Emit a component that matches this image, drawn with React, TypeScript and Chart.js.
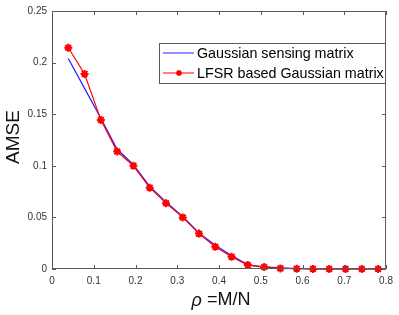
import React, { useEffect, useRef } from "react";
import { Chart, registerables } from "chart.js";

Chart.register(...registerables);

const rho = [0.039, 0.078, 0.117, 0.156, 0.195, 0.234, 0.273, 0.313, 0.352, 0.391, 0.430, 0.469, 0.508, 0.547, 0.586, 0.625, 0.664, 0.703, 0.742, 0.781];
const gaussian = [0.204, 0.175, 0.146, 0.116, 0.101, 0.080, 0.065, 0.051, 0.035, 0.023, 0.013, 0.004, 0.002, 0.001, 0.0005, 0.0002, 0.0001, 0, 0, 0];
const lfsr = [0.2144, 0.189, 0.1445, 0.1138, 0.100, 0.0788, 0.0638, 0.050, 0.0343, 0.0215, 0.0118, 0.0038, 0.0019, 0.0006, 0.0003, 0.0001, 0, 0, 0, 0];
const xTicks = [0, 0.1, 0.2, 0.3, 0.4, 0.5, 0.6, 0.7, 0.8];
const yTicks = [0, 0.05, 0.1, 0.15, 0.2, 0.25];
const seriesNames = ["Gaussian sensing matrix", "LFSR based Gaussian matrix"];
const yTitle = "AMSE";
const xTitleSymbol = "ρ";
const xTitleRest = " =M/N";

const FONT = "'Liberation Sans', Arial, sans-serif";
const AXIS = "#5a5a5a";
const LABEL = "#333333";
const BLUE = "#2020ff";
const RED = "#ff0000";

const decor = {
  id: "decor",
  afterDraw(chart: any) {
    const ctx = chart.ctx;
    const { left, right, top, bottom } = chart.chartArea;
    const xs = chart.scales.x;
    const ys = chart.scales.y;
    ctx.save();
    ctx.strokeStyle = AXIS;
    ctx.lineWidth = 1;
    ctx.beginPath();
    ctx.rect(left + 0.5, top + 0.5, right - left - 1, bottom - top - 1);
    ctx.stroke();
    const tl = 4;
    ctx.beginPath();
    for (const v of xTicks) {
      const px = Math.round(xs.getPixelForValue(v)) + 0.5;
      ctx.moveTo(px, bottom);
      ctx.lineTo(px, bottom - tl);
      ctx.moveTo(px, top);
      ctx.lineTo(px, top + tl);
    }
    for (const v of yTicks) {
      const py = Math.round(ys.getPixelForValue(v)) + 0.5;
      ctx.moveTo(left, py);
      ctx.lineTo(left + tl, py);
      ctx.moveTo(right, py);
      ctx.lineTo(right - tl, py);
    }
    ctx.stroke();

    // Axis titles
    ctx.fillStyle = "#111111";
    ctx.textBaseline = "middle";
    ctx.save();
    ctx.translate(14, 137);
    ctx.rotate(-Math.PI / 2);
    ctx.textAlign = "center";
    ctx.font = `19px ${FONT}`;
    ctx.fillText(yTitle, 0, 0);
    ctx.restore();

    ctx.font = `italic 18px ${FONT}`;
    const w1 = ctx.measureText(xTitleSymbol).width;
    ctx.font = `18px ${FONT}`;
    const w2 = ctx.measureText(xTitleRest).width;
    const cx = (left + right) / 2 + 2;
    const sx = cx - (w1 + w2) / 2;
    ctx.textAlign = "left";
    ctx.font = `italic 18px ${FONT}`;
    ctx.fillText(xTitleSymbol, sx, 301);
    ctx.font = `18px ${FONT}`;
    ctx.fillText(xTitleRest, sx + w1, 300);

    // Legend
    const lx = 159, ly = 43, lw = 226, lh = 40;
    ctx.fillStyle = "#ffffff";
    ctx.fillRect(lx, ly, lw, lh);
    ctx.strokeStyle = AXIS;
    ctx.strokeRect(lx + 0.5, ly + 0.5, lw, lh);
    const rows = [53, 73];
    const colors = [BLUE, RED];
    for (let i = 0; i < 2; i++) {
      ctx.strokeStyle = colors[i];
      ctx.lineWidth = 1;
      ctx.beginPath();
      ctx.moveTo(163, rows[i]);
      ctx.lineTo(194, rows[i]);
      ctx.stroke();
      ctx.fillStyle = "#000000";
      ctx.font = `14.3px ${FONT}`;
      ctx.textAlign = "left";
      ctx.textBaseline = "middle";
      ctx.fillText(seriesNames[i], 197, rows[i] + 1);
    }
    // marker in legend
    ctx.strokeStyle = RED;
    ctx.lineWidth = 1.5;
    const mx = 179, my = rows[1], r = 3;
    ctx.beginPath();
    ctx.moveTo(mx - r, my); ctx.lineTo(mx + r, my);
    ctx.moveTo(mx, my - r); ctx.lineTo(mx, my + r);
    const d = r * 0.707;
    ctx.moveTo(mx - d, my - d); ctx.lineTo(mx + d, my + d);
    ctx.moveTo(mx - d, my + d); ctx.lineTo(mx + d, my - d);
    ctx.stroke();
    ctx.restore();
  },
};

export default function App() {
  const ref = useRef<HTMLCanvasElement | null>(null);
  useEffect(() => {
    if (!ref.current) return;
    const fmt = (v: any) => String(Number(Number(v).toFixed(3)));
    const chart = new Chart(ref.current, {
      type: "line",
      data: {
        datasets: [
          {
            label: seriesNames[1],
            data: rho.map((x, i) => ({ x, y: lfsr[i] })),
            borderColor: RED,
            backgroundColor: RED,
            borderWidth: 1.2,
            pointStyle: "star",
            pointRadius: 4,
            pointBorderWidth: 2,
            pointBorderColor: RED,
            pointBackgroundColor: RED,
            clip: false,
            order: 0,
          } as any,
          {
            label: seriesNames[0],
            data: rho.map((x, i) => ({ x, y: gaussian[i] })),
            borderColor: BLUE,
            borderWidth: 1.2,
            pointRadius: 0,
            clip: false,
            order: 1,
          } as any,
        ],
      },
      options: {
        responsive: false,
        animation: false,
        events: [],
        layout: { padding: { top: 9, right: 10, left: 0, bottom: 0 } },
        plugins: { legend: { display: false }, tooltip: { enabled: false } },
        scales: {
          x: {
            type: "linear",
            min: 0,
            max: 0.8,
            afterFit: (s: any) => { s.height = 46; },
            afterBuildTicks: (s: any) => { s.ticks = xTicks.map((v) => ({ value: v })); },
            grid: { display: false, drawTicks: false },
            border: { display: false },
            ticks: { padding: 6, color: LABEL, font: { family: FONT, size: 10 }, maxRotation: 0, autoSkip: false, callback: fmt },
          },
          y: {
            type: "linear",
            min: 0,
            max: 0.25,
            afterFit: (s: any) => { s.width = 52; },
            afterBuildTicks: (s: any) => { s.ticks = yTicks.map((v) => ({ value: v })); },
            grid: { display: false, drawTicks: false },
            border: { display: false },
            ticks: { padding: 5, color: LABEL, font: { family: FONT, size: 10 }, autoSkip: false, callback: fmt },
          },
        },
      },
      plugins: [decor],
    });
    return () => chart.destroy();
  }, []);
  return (
    <div style={{ position: "fixed", left: 0, top: 0, width: 399, height: 315, background: "#fff" }}>
      <canvas ref={ref} width={399} height={315} style={{ display: "block" }} />
    </div>
  );
}
